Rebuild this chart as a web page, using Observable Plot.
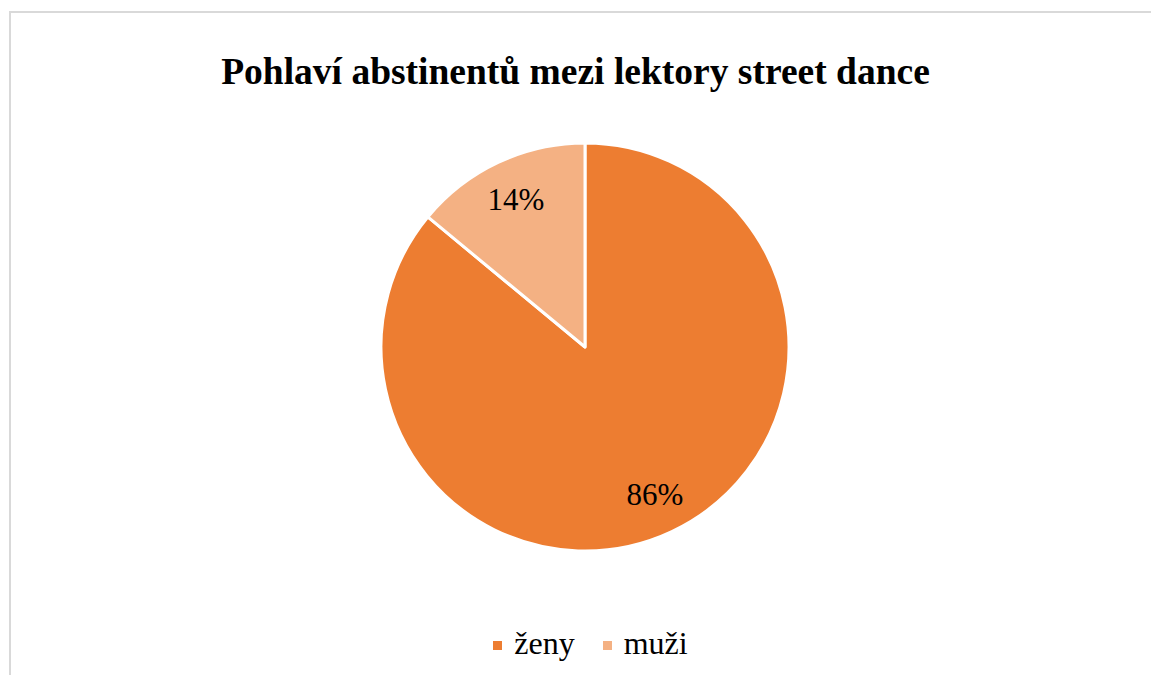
<!DOCTYPE html>
<html>
<head>
<meta charset="utf-8">
<script src="https://cdn.jsdelivr.net/npm/d3@7"></script>
<script src="https://cdn.jsdelivr.net/npm/@observablehq/plot@0.6"></script>
<style>
  html, body { margin: 0; padding: 0; background: #fff; }
  #wrap { position: relative; width: 1151px; height: 675px; overflow: hidden; font-family: "Liberation Serif", "Times New Roman", serif; }
  #frame { position: absolute; left: 9px; top: 11px; width: 1200px; height: 700px; border: 2px solid #d9d9d9; box-sizing: border-box; }
  #title { position: absolute; left: 0; width: 1151px; top: 48px; text-align: center; font-weight: bold; font-size: 37.5px; line-height: 48px; color: #000; }
  #chart { position: absolute; left: 0; top: 130px; }
  #chart text { font-family: "Liberation Serif", "Times New Roman", serif !important; }
  #legend { position: absolute; left: 15px; width: 1151px; top: 623px; display: flex; justify-content: center; align-items: center; font-size: 32px; line-height: 40px; color: #000; }
  .item { display: flex; align-items: center; margin: 0 14px; }
  .sw { width: 9px; height: 9px; margin-right: 12px; margin-top: 4px; }
</style>
</head>
<body>
<div id="wrap">
  <div id="frame"></div>
  <div id="title">Pohlaví abstinentů mezi lektory street dance</div>
  <div id="chart"></div>
  <div id="legend"></div>
</div>
<script>
const categories = ["ženy", "muži"];
const values = [86, 14];
const labels = ["86%", "14%"];
const colors = ["#ED7D31", "#F4B183"];

const data = categories.map((c, i) => ({category: c, value: values[i], label: labels[i]}));

const pie = d3.pie().sort(null).value(d => d.value);
const arcs = pie(data);
const labelR = 0.8;
const labelData = arcs.map(a => {
  const mid = (a.startAngle + a.endAngle) / 2;
  return {label: a.data.label, x: labelR * Math.sin(mid), y: labelR * Math.cos(mid)};
});

const cx = 585, cy = 347 - 130, R = 204;
const W = 1151, H = 440;

function pieMark(index, scales, vals, dims, context) {
  const g = d3.create("svg:g");
  const r = scales.x(1) - scales.x(0);
  const arc = d3.arc().innerRadius(0).outerRadius(r);
  g.attr("transform", `translate(${scales.x(0)},${scales.y(0)})`);
  g.selectAll("path").data(arcs).join("path")
    .attr("d", arc)
    .attr("fill", d => scales.color(d.data.category))
    .attr("stroke", "#fff")
    .attr("stroke-width", 3)
    .attr("stroke-linejoin", "round");
  return g.node();
}

const plot = Plot.plot({
  width: W,
  height: H,
  margin: 0,
  x: {domain: [-1, 1], range: [cx - R, cx + R], axis: null},
  y: {domain: [-1, 1], range: [cy + R, cy - R], axis: null},
  color: {domain: categories, range: colors},
  style: {background: "transparent", overflow: "visible", fontFamily: "Liberation Serif, serif"},
  marks: [
    pieMark,
    Plot.text(labelData, {x: "x", y: "y", text: "label", fontSize: 31, fill: "#000", fontFamily: "Liberation Serif", textAnchor: "middle", lineAnchor: "middle"})
  ]
});
document.getElementById("chart").appendChild(plot);

const legend = document.getElementById("legend");
categories.forEach((c, i) => {
  const item = document.createElement("div");
  item.className = "item";
  const sw = document.createElement("span");
  sw.className = "sw";
  sw.style.background = colors[i];
  const t = document.createElement("span");
  t.textContent = c;
  item.appendChild(sw); item.appendChild(t);
  legend.appendChild(item);
});
</script>
</body>
</html>
